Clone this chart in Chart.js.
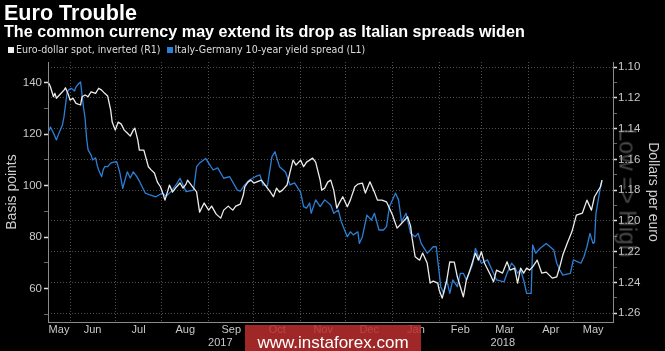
<!DOCTYPE html>
<html><head><meta charset="utf-8">
<script src="https://cdn.jsdelivr.net/npm/chart.js@4.4.1/dist/chart.umd.min.js"></script>
<style>
html,body{margin:0;padding:0;background:#000;}
#wrap{position:relative;width:665px;height:351px;overflow:hidden;background:#000;font-family:"Liberation Sans",Arial,sans-serif;}
#c{position:absolute;left:0;top:0;}
.t{position:absolute;white-space:nowrap;line-height:1;color:#fff;}
#title{left:4px;top:2px;font-size:21px;font-weight:bold;}
#sub{left:4px;top:23px;font-size:16px;font-weight:bold;}
#legend{left:8px;top:44px;font-size:11px;color:#ddd;font-family:"Liberation Sans Narrow","DejaVu Sans Condensed","Liberation Sans",sans-serif;}
.sw{display:inline-block;width:6px;height:6px;margin-right:2px;}
#wm{position:absolute;left:245px;top:325px;width:176px;height:36px;line-height:36px;text-align:center;background:rgba(185,45,45,0.86);color:#fff;font-size:17px;font-family:"Liberation Sans",Arial,sans-serif;}
#low{position:absolute;left:627px;top:193px;transform:translate(-50%,-50%) rotate(90deg);font-size:23px;color:rgba(150,150,150,0.5);white-space:nowrap;line-height:1;}
</style>
</head><body>
<div id="wrap">
<canvas id="c" width="665" height="351"></canvas>
<div class="t" id="title">Euro Trouble</div>
<div class="t" id="sub">The common currency may extend its drop as Italian spreads widen</div>
<div class="t" id="legend"><span class="sw" style="background:#f0f0f0"></span>Euro-dollar spot, inverted (R1)&nbsp;&nbsp;<span class="sw" style="background:#2b7fd6"></span>Italy-Germany 10-year yield spread (L1)</div>
<div id="low">Low =&gt; High</div>
<div id="wm">www.instaforex.com</div>
</div>
<script>
// x values: days since 2017-05-01
const monthStarts = [31,61,92,123,153,184,214,245,276,304,335,365];
const monthNames = ['May','Jun','Jul','Aug','Sep','Oct','Nov','Dec','Jan','Feb','Mar','Apr','May'];
const yearNames = ['2017','2018'];
const yearBoundary = 245;
const xMin = 16.4, xMax = 391.3;

const spreadTickValues = [50,60,70,80,90,100,110,120,130,140];
const spreadLabelValues = [60,80,100,120,140];
const eurTickValues = [1.10,1.11,1.12,1.13,1.14,1.15,1.16,1.17,1.18,1.19,1.20,1.21,1.22,1.23,1.24,1.25,1.26];
const eurLabelValues = ['1.10','1.12','1.14','1.16','1.18','1.20','1.22','1.24','1.26'];

// Euro-dollar spot (right axis, inverted)
const euroDays = [17,18,20,21,22,24,27,28,30,31,33,35,38,39,41,43,45,48,50,52,54,56,58,59,61,63,65,67,69,71,73,74,76,77,80,83,85,87,89,91,93,94,96,97,99,101,104,106,108,109,112,115,117,120,123,125,128,131,133,136,139,141,144,146,147,149,151,153,155,158,161,164,166,168,170,172,175,177,179,181,184,186,188,190,192,194,195,197,198,200,202,204,206,208,210,212,215,217,220,222,225,227,230,233,235,238,241,245,248,250,253,255,257,258,260,263,265,268,270,272,275,276,278,281,283,286,288,292,294,296,300,302,304,306,310,312,314,318,321,323,326,328,330,332,334,336,338,341,344,347,351,354,356,358,361,364,367,371,374,377,379,383,384];
const euroUsd = [1.1106,1.1128,1.1193,1.1171,1.1203,1.1182,1.1150,1.1135,1.1182,1.1215,1.1203,1.1236,1.1247,1.1193,1.1182,1.1193,1.1161,1.1171,1.1138,1.1150,1.1171,1.1189,1.1280,1.1358,1.1410,1.1358,1.1371,1.1410,1.1429,1.1449,1.1410,1.1397,1.1475,1.1540,1.1540,1.1648,1.1670,1.1689,1.1748,1.1778,1.1832,1.1865,1.1800,1.1767,1.1813,1.1787,1.1754,1.1787,1.1761,1.1735,1.1774,1.1811,1.1943,1.1884,1.1930,1.1904,1.1956,1.1982,1.1930,1.1904,1.1930,1.1904,1.1891,1.1832,1.1778,1.1748,1.1735,1.1754,1.1746,1.1735,1.1774,1.1813,1.1843,1.1787,1.1813,1.1800,1.1767,1.1683,1.1605,1.1637,1.1605,1.1648,1.1618,1.1605,1.1592,1.1618,1.1657,1.1735,1.1800,1.1787,1.1748,1.1735,1.1800,1.1917,1.1878,1.1843,1.1908,1.1865,1.1778,1.1761,1.1754,1.1819,1.1746,1.1813,1.1865,1.1865,1.1876,1.1962,1.2047,1.2027,1.1995,1.1973,1.2034,1.2112,1.2233,1.2255,1.2209,1.2274,1.2404,1.2391,1.2404,1.2450,1.2502,1.2385,1.2266,1.2268,1.2363,1.2493,1.2385,1.2331,1.2209,1.2255,1.2201,1.2274,1.2352,1.2396,1.2320,1.2339,1.2266,1.2320,1.2307,1.2404,1.2307,1.2339,1.2307,1.2320,1.2298,1.2255,1.2339,1.2333,1.2372,1.2363,1.2298,1.2222,1.2144,1.2071,1.1962,1.1949,1.1865,1.1930,1.1843,1.1778,1.1735];

// Italy-Germany 10-year spread, bp (left axis)
const spreadDays = [17,18,20,22,24,26,27,28,29,30,32,34,35,37,38,39,40,41,42,43,45,46,48,49,50,52,53,54,56,58,60,62,64,66,69,71,73,75,77,81,84,88,92,95,98,102,104,106,108,113,115,117,121,123,126,129,133,137,142,144,147,150,154,157,159,162,165,167,170,174,177,180,184,186,188,190,191,194,197,200,204,206,209,211,215,217,219,222,223,225,228,231,233,236,239,241,243,247,249,251,254,257,260,262,264,268,270,272,274,277,279,281,283,285,288,290,292,294,298,300,302,304,308,310,312,314,319,321,324,326,328,330,332,334,337,338,340,343,347,352,354,356,358,363,365,370,372,374,376,378,379,380,383,384];
const spreadBp = [121.2,122.8,120.5,117.8,120.9,123.6,126.7,131.3,135.9,137.2,137.8,136.8,138.4,139.8,140.3,135.2,130.2,126.3,118.5,113.9,111.9,110.0,110.8,108.0,106.1,103.5,106.1,107.4,107.4,108.8,109.2,109.3,105.3,99.0,105.4,103.0,105.4,103.8,101.8,97.1,96.4,95.7,97.1,96.0,97.7,100.9,102.9,100.3,97.7,98.3,107.4,108.8,110.6,108.8,106.1,106.9,102.9,103.5,98.3,97.9,100.3,102.2,103.5,104.2,100.3,99.9,111.3,113.2,107.4,105.3,100.3,101.1,97.4,91.9,91.3,93.3,89.3,94.5,91.9,94.5,92.5,89.3,90.6,86.0,80.2,82.1,80.9,82.1,77.6,80.2,88.6,86.7,89.3,82.8,82.8,84.1,91.9,97.1,94.5,86.0,89.3,81.5,80.2,81.5,77.6,73.8,75.0,76.3,76.3,60.8,58.2,63.4,58.2,63.4,60.8,66.0,66.0,63.4,69.2,75.7,72.4,69.9,71.2,68.6,66.0,63.4,62.7,66.0,69.9,68.6,66.0,67.3,63.4,58.2,58.2,77.0,73.8,75.7,77.6,75.0,69.9,67.3,65.3,66.0,71.2,69.9,72.4,76.3,81.5,77.6,78.0,89.3,99.6,102.2];

// fit header texts to the widths they take in the reference
function fitWidth(id, target){
  const el = document.getElementById(id);
  const w = el.getBoundingClientRect().width;
  const fs = parseFloat(getComputedStyle(el).fontSize);
  if (w > 0) el.style.fontSize = (fs * target / w).toFixed(2) + 'px';
}
fitWidth('title', 133);
fitWidth('sub', 521);
fitWidth('legend', 357);

// x-axis tick table built from month starts / names
const bounds = [xMin, ...monthStarts, xMax];
const xTicks = [];
monthNames.forEach((m,i)=>xTicks.push({value:(bounds[i]+bounds[i+1])/2,label:m,grid:false}));
xTicks.push({value:(xMin+yearBoundary)/2,label:['',yearNames[0]],grid:false});
xTicks.push({value:(yearBoundary+xMax)/2,label:['',yearNames[1]],grid:false});
monthStarts.forEach(v=>xTicks.push({value:v,label:'',grid:true}));
xTicks.sort((a,b)=>a.value-b.value);

const gridCol = 'rgba(160,160,160,0.5)';
const axisCol = '#8a8a8a';
const labelCol = '#c8c8c8';
const tickFont = {family:'"Liberation Sans", Arial, sans-serif', size:11.5};

new Chart(document.getElementById('c'), {
  type:'line',
  data:{
    datasets:[
      {label:'Euro-dollar spot, inverted (R1)', data:euroDays.map((d,i)=>({x:d,y:euroUsd[i]})), yAxisID:'yR', borderColor:'#ececec', borderWidth:1.3, pointRadius:0, tension:0, borderJoinStyle:'round'},
      {label:'Italy-Germany 10-year yield spread (L1)', data:spreadDays.map((d,i)=>({x:d,y:spreadBp[i]})), yAxisID:'yL', borderColor:'#2b7fd6', borderWidth:1.3, pointRadius:0, tension:0, borderJoinStyle:'round'}
    ]
  },
  options:{
    responsive:false, animation:false, devicePixelRatio:1,
    layout:{padding:{top:62,left:0,right:0,bottom:0}},
    plugins:{legend:{display:false}, tooltip:{enabled:false}},
    scales:{
      x:{
        type:'linear', position:'bottom', min:xMin, max:xMax,
        afterBuildTicks:(s)=>{ s.ticks = xTicks.map(t=>({value:t.value})); },
        afterFit:(s)=>{ s.height = 29; s.paddingLeft = 0; s.paddingRight = 0; },
        ticks:{ autoSkip:false, maxRotation:0, minRotation:0, padding:1, color:labelCol, font:{family:tickFont.family,size:11},
          callback:(v,i)=> xTicks[i] ? xTicks[i].label : '' },
        grid:{ drawTicks:false, lineWidth:1, color:(ctx)=>{ const t = xTicks[ctx.index]; return t && t.grid ? gridCol : 'rgba(0,0,0,0)'; } },
        border:{ display:true, color:axisCol, width:1, dash:[1,2] }
      },
      yL:{
        type:'linear', position:'left', min:47.08, max:148.04,
        afterBuildTicks:(s)=>{ s.ticks = spreadTickValues.map(v=>({value:v})); },
        afterFit:(s)=>{ s.width = 48; s.paddingTop = 0; s.paddingBottom = 0; },
        ticks:{ padding:2, color:labelCol, font:tickFont, autoSkip:false,
          callback:(v)=> spreadLabelValues.includes(v) ? String(v) : '' },
        grid:{ drawOnChartArea:false, drawTicks:true, tickLength:4,
          tickColor:(ctx)=> ctx.tick && spreadLabelValues.includes(ctx.tick.value) ? '#e0e0e0' : '#666',
          tickWidth:(ctx)=> ctx.tick && spreadLabelValues.includes(ctx.tick.value) ? 1.5 : 1 },
        border:{ display:true, color:axisCol, width:1 },
        title:{ display:true, text:'Basis points', color:'#cfcfcf', font:{family:tickFont.family,size:14} }
      },
      yR:{
        type:'linear', position:'right', reverse:true, min:1.09675, max:1.26569,
        afterBuildTicks:(s)=>{ s.ticks = eurTickValues.map(v=>({value:v})); },
        afterFit:(s)=>{ s.width = 52; s.paddingTop = 0; s.paddingBottom = 0; },
        ticks:{ padding:1, color:labelCol, font:tickFont, autoSkip:false,
          callback:(v)=>{ const s = v.toFixed(2); return eurLabelValues.includes(s) ? s : ''; } },
        grid:{ drawOnChartArea:true, drawTicks:true, tickLength:4,
          color:(ctx)=> ctx.tick && eurLabelValues.includes(ctx.tick.value.toFixed(2)) ? gridCol : 'rgba(0,0,0,0)',
          tickColor:(ctx)=> ctx.tick && eurLabelValues.includes(ctx.tick.value.toFixed(2)) ? '#e0e0e0' : '#666',
          tickWidth:(ctx)=> ctx.tick && eurLabelValues.includes(ctx.tick.value.toFixed(2)) ? 1.5 : 1 },
        border:{ display:true, color:axisCol, width:1, dash:[1,2] },
        title:{ display:true, text:'Dollars per euro', color:'#cfcfcf', font:{family:tickFont.family,size:14} }
      }
    }
  }
});
</script>
</body></html>
